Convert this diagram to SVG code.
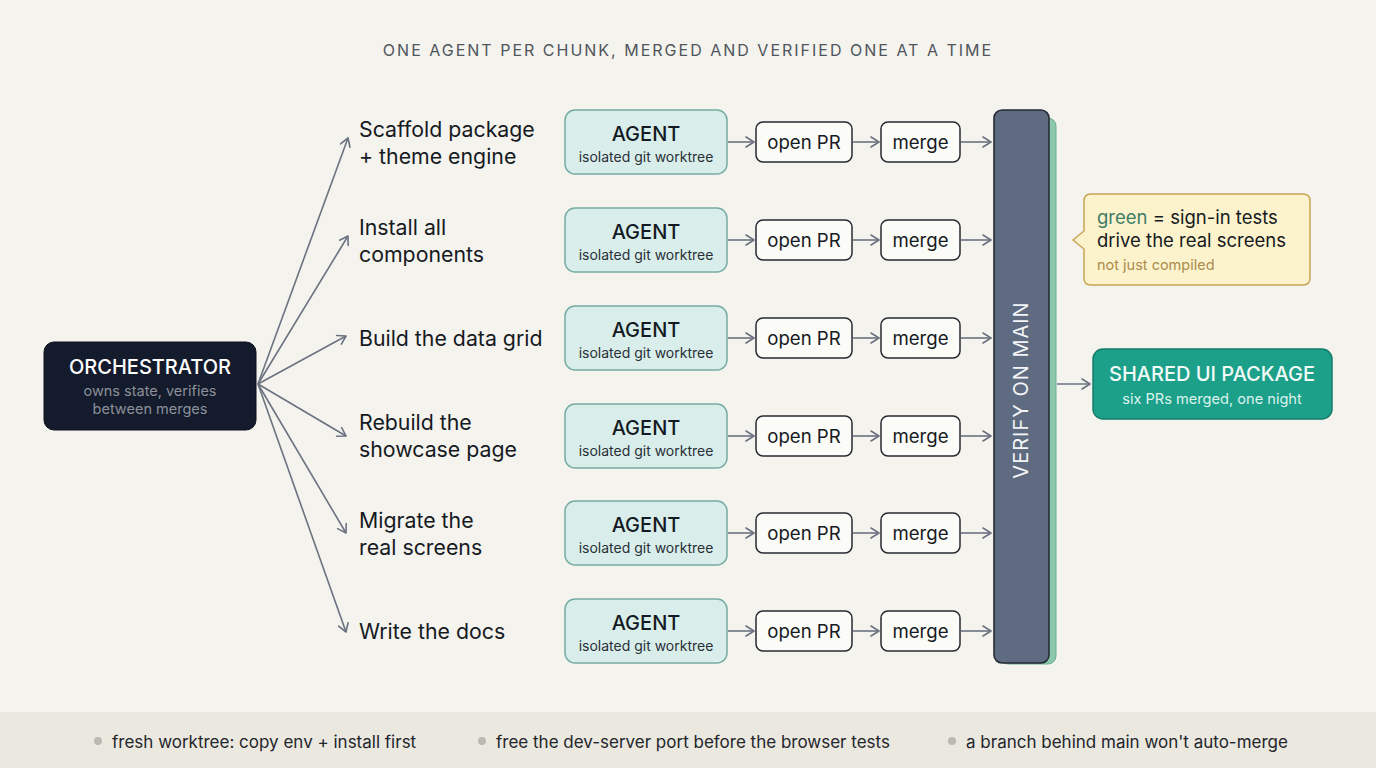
<svg xmlns="http://www.w3.org/2000/svg" width="1376" height="768" viewBox="0 0 1376 768">
<defs>
<marker id="arr" viewBox="0 0 12 12" refX="10" refY="6" markerWidth="12" markerHeight="12" markerUnits="userSpaceOnUse" orient="auto">
<path d="M2,1 L10,6 L2,11" fill="none" stroke="#6b7380" stroke-width="1.6" stroke-linecap="round" stroke-linejoin="round"/>
</marker>
<style>
text{font-family:Inter,"Noto Sans","Liberation Sans",sans-serif}
.conn{stroke:#6b7380;stroke-width:1.6;fill:none;marker-end:url(#arr)}
.task{font-size:21.3px;fill:#161a22}
.agent rect{fill:#d9eeeb;stroke:#77aca3;stroke-width:1.5}
.agent .t{font-size:20px;fill:#141a22;text-anchor:middle;font-weight:500}
.agent .s{font-size:14px;fill:#2a3038;text-anchor:middle}
.step rect{fill:#fbfbf8;stroke:#262a30;stroke-width:1.5}
.step text{font-size:18.6px;fill:#161a22;text-anchor:middle}
.foot{font-size:17px;fill:#22252b}
.dot{fill:#bbb9b1}
</style>
</defs>
<rect width="1376" height="768" fill="#f4f3ee"/>
<text x="688" y="56" text-anchor="middle" font-size="16" letter-spacing="2" fill="#50555c">ONE AGENT PER CHUNK, MERGED AND VERIFIED ONE AT A TIME</text>

<g id="connectors">
<line class="conn" x1="258" y1="384" x2="348" y2="138"/>
<line class="conn" x1="258" y1="384" x2="348" y2="236"/>
<line class="conn" x1="258" y1="384" x2="346" y2="336"/>
<line class="conn" x1="258" y1="384" x2="346" y2="436"/>
<line class="conn" x1="258" y1="384" x2="346" y2="533"/>
<line class="conn" x1="258" y1="384" x2="346" y2="632"/>
<line class="conn" x1="728" y1="142" x2="754" y2="142"/>
<line class="conn" x1="853" y1="142" x2="879" y2="142"/>
<line class="conn" x1="961" y1="142" x2="991" y2="142"/>
<line class="conn" x1="728" y1="240" x2="754" y2="240"/>
<line class="conn" x1="853" y1="240" x2="879" y2="240"/>
<line class="conn" x1="961" y1="240" x2="991" y2="240"/>
<line class="conn" x1="728" y1="338" x2="754" y2="338"/>
<line class="conn" x1="853" y1="338" x2="879" y2="338"/>
<line class="conn" x1="961" y1="338" x2="991" y2="338"/>
<line class="conn" x1="728" y1="436" x2="754" y2="436"/>
<line class="conn" x1="853" y1="436" x2="879" y2="436"/>
<line class="conn" x1="961" y1="436" x2="991" y2="436"/>
<line class="conn" x1="728" y1="533" x2="754" y2="533"/>
<line class="conn" x1="853" y1="533" x2="879" y2="533"/>
<line class="conn" x1="961" y1="533" x2="991" y2="533"/>
<line class="conn" x1="728" y1="631" x2="754" y2="631"/>
<line class="conn" x1="853" y1="631" x2="879" y2="631"/>
<line class="conn" x1="961" y1="631" x2="991" y2="631"/>
<line class="conn" x1="1057" y1="384" x2="1090" y2="384"/>
</g>

<g id="orchestrator">
<rect x="44" y="342" width="212" height="88" rx="10" fill="#141b2c" stroke="#0c111c"/>
<text x="150" y="374" text-anchor="middle" font-size="20" font-weight="500" fill="#ffffff">ORCHESTRATOR</text>
<text x="150" y="396" text-anchor="middle" font-size="14.5" fill="#8b9099">owns state, verifies</text>
<text x="150" y="414" text-anchor="middle" font-size="14.5" fill="#8b9099">between merges</text>
</g>

<g id="task1"><text class="task" x="359" y="137">Scaffold package</text><text class="task" x="359" y="164">+ theme engine</text></g>
<g id="task2"><text class="task" x="359" y="235">Install all</text><text class="task" x="359" y="262">components</text></g>
<g id="task3"><text class="task" x="359" y="346">Build the data grid</text></g>
<g id="task4"><text class="task" x="359" y="430">Rebuild the</text><text class="task" x="359" y="457">showcase page</text></g>
<g id="task5"><text class="task" x="359" y="528">Migrate the</text><text class="task" x="359" y="555">real screens</text></g>
<g id="task6"><text class="task" x="359" y="639">Write the docs</text></g>

<g id="agent1" class="agent"><rect x="565" y="110" width="162" height="64" rx="10"/><text class="t" x="646" y="141">AGENT</text><text class="s" x="646" y="162">isolated git worktree</text></g>
<g id="agent2" class="agent"><rect x="565" y="208" width="162" height="64" rx="10"/><text class="t" x="646" y="239">AGENT</text><text class="s" x="646" y="260">isolated git worktree</text></g>
<g id="agent3" class="agent"><rect x="565" y="306" width="162" height="64" rx="10"/><text class="t" x="646" y="337">AGENT</text><text class="s" x="646" y="358">isolated git worktree</text></g>
<g id="agent4" class="agent"><rect x="565" y="404" width="162" height="64" rx="10"/><text class="t" x="646" y="435">AGENT</text><text class="s" x="646" y="456">isolated git worktree</text></g>
<g id="agent5" class="agent"><rect x="565" y="501" width="162" height="64" rx="10"/><text class="t" x="646" y="532">AGENT</text><text class="s" x="646" y="553">isolated git worktree</text></g>
<g id="agent6" class="agent"><rect x="565" y="599" width="162" height="64" rx="10"/><text class="t" x="646" y="630">AGENT</text><text class="s" x="646" y="651">isolated git worktree</text></g>

<g id="pr1" class="step"><rect x="756" y="122" width="96" height="40" rx="7"/><text x="804" y="149">open PR</text></g>
<g id="pr2" class="step"><rect x="756" y="220" width="96" height="40" rx="7"/><text x="804" y="247">open PR</text></g>
<g id="pr3" class="step"><rect x="756" y="318" width="96" height="40" rx="7"/><text x="804" y="345">open PR</text></g>
<g id="pr4" class="step"><rect x="756" y="416" width="96" height="40" rx="7"/><text x="804" y="443">open PR</text></g>
<g id="pr5" class="step"><rect x="756" y="513" width="96" height="40" rx="7"/><text x="804" y="540">open PR</text></g>
<g id="pr6" class="step"><rect x="756" y="611" width="96" height="40" rx="7"/><text x="804" y="638">open PR</text></g>

<g id="merge1" class="step"><rect x="881" y="122" width="79" height="40" rx="7"/><text x="920.5" y="149">merge</text></g>
<g id="merge2" class="step"><rect x="881" y="220" width="79" height="40" rx="7"/><text x="920.5" y="247">merge</text></g>
<g id="merge3" class="step"><rect x="881" y="318" width="79" height="40" rx="7"/><text x="920.5" y="345">merge</text></g>
<g id="merge4" class="step"><rect x="881" y="416" width="79" height="40" rx="7"/><text x="920.5" y="443">merge</text></g>
<g id="merge5" class="step"><rect x="881" y="513" width="79" height="40" rx="7"/><text x="920.5" y="540">merge</text></g>
<g id="merge6" class="step"><rect x="881" y="611" width="79" height="40" rx="7"/><text x="920.5" y="638">merge</text></g>

<g id="verify">
<rect x="1000" y="118" width="56" height="546" rx="8" fill="#8cc8ad" stroke="#6eae93" stroke-width="1"/>
<rect x="994" y="110" width="55" height="553" rx="8" fill="#5f6b80" stroke="#262b35" stroke-width="1.6"/>
<text transform="translate(1028,390) rotate(-90)" text-anchor="middle" font-size="20" letter-spacing="1" fill="#f2f4f7">VERIFY ON MAIN</text>
</g>

<g id="callout">
<path d="M1091,194 H1303 Q1310,194 1310,201 V278 Q1310,285 1303,285 H1091 Q1084,285 1084,278 V249 L1073,240 L1084,231 V201 Q1084,194 1091,194 Z" fill="#fcf2cb" stroke="#c8a555" stroke-width="1.5"/>
<text x="1097" y="224" font-size="18.5" fill="#161a22"><tspan fill="#3f7d66">green</tspan> = sign-in tests</text>
<text x="1097" y="247" font-size="18.5" fill="#161a22">drive the real screens</text>
<text x="1097" y="270" font-size="14.5" fill="#a98c4b">not just compiled</text>
</g>

<g id="shared">
<rect x="1093" y="349" width="239" height="70" rx="10" fill="#1ca08a" stroke="#147d6b" stroke-width="1.5"/>
<text x="1212" y="381" text-anchor="middle" font-size="20" font-weight="500" fill="#f2fbf8">SHARED UI PACKAGE</text>
<text x="1212" y="404" text-anchor="middle" font-size="14.6" fill="#dcf3ed">six PRs merged, one night</text>
</g>

<g id="footer">
<rect x="0" y="712" width="1376" height="56" fill="#ebe8e0"/>
<circle class="dot" cx="98" cy="741" r="4"/>
<text class="foot" x="112" y="748">fresh worktree: copy env + install first</text>
<circle class="dot" cx="482" cy="741" r="4"/>
<text class="foot" x="496" y="748">free the dev-server port before the browser tests</text>
<circle class="dot" cx="952" cy="741" r="4"/>
<text class="foot" x="966" y="748">a branch behind main won't auto-merge</text>
</g>
</svg>
